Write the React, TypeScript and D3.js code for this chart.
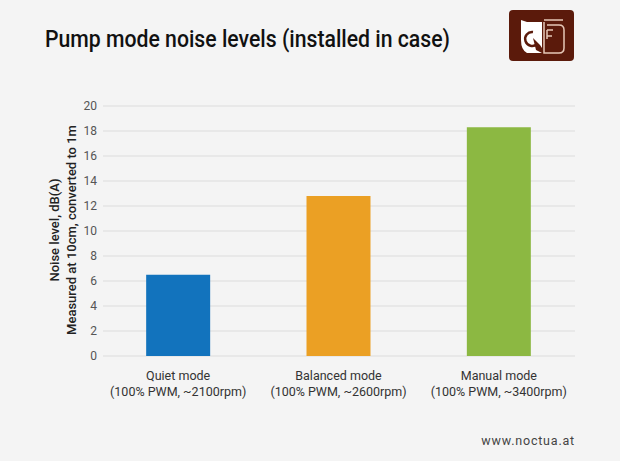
import React, { useEffect, useRef } from 'react';
import * as d3 from 'd3';

const categories = ['Quiet mode', 'Balanced mode', 'Manual mode'];
const subLabels = ['(100% PWM, ~2100rpm)', '(100% PWM, ~2600rpm)', '(100% PWM, ~3400rpm)'];
const noiseValues = [6.5, 12.8, 18.3];
const barColors = ['#1273bd', '#eba024', '#8cb842'];
const yTicks = [0, 2, 4, 6, 8, 10, 12, 14, 16, 18, 20];

const W = 620;
const H = 461;
const FONT = 'Roboto, "Liberation Sans", sans-serif';

const App = () => {
  const svgRef = useRef<SVGSVGElement>(null);

  useEffect(() => {
    const svg = d3.select(svgRef.current);
    svg.selectAll('*').remove();

    svg.append('rect').attr('width', W).attr('height', H).attr('fill', '#f4f4f4');

    // Scales
    const x = d3.scaleBand().domain(categories).range([98, 579]).paddingInner(0.6).paddingOuter(0.3);
    const y = d3.scaleLinear().domain([0, 20]).range([356, 106]);

    // Grid
    svg.append('g')
      .selectAll('line')
      .data(yTicks)
      .enter()
      .append('line')
      .attr('x1', 103)
      .attr('x2', 575)
      .attr('y1', d => y(d))
      .attr('y2', d => y(d))
      .attr('stroke', '#dcdcdc')
      .attr('stroke-width', 1);

    // Y tick labels
    svg.append('g')
      .selectAll('text')
      .data(yTicks)
      .enter()
      .append('text')
      .attr('x', 97)
      .attr('y', d => y(d))
      .attr('dy', '0.35em')
      .attr('text-anchor', 'end')
      .attr('font-family', FONT)
      .attr('font-size', 12)
      .attr('fill', '#555')
      .text(d => d);

    // Bars
    const bw = 64;
    svg.append('g')
      .selectAll('rect')
      .data(noiseValues)
      .enter()
      .append('rect')
      .attr('x', (d, i) => x(categories[i])! + x.bandwidth() / 2 - bw / 2)
      .attr('y', d => y(d))
      .attr('width', bw)
      .attr('height', d => y(0) - y(d))
      .attr('fill', (d, i) => barColors[i]);

    // Category labels
    const cat = svg.append('g')
      .selectAll('text')
      .data(categories)
      .enter()
      .append('text')
      .attr('x', d => x(d)! + x.bandwidth() / 2)
      .attr('text-anchor', 'middle')
      .attr('font-family', FONT)
      .attr('font-size', 12.5)
      .attr('fill', '#333');
    cat.append('tspan').attr('y', 380).text(d => d);
    cat.append('tspan')
      .attr('x', d => x(d)! + x.bandwidth() / 2)
      .attr('y', 396)
      .text((d, i) => subLabels[i]);

    // Y axis title
    const yt = svg.append('text')
      .attr('transform', 'translate(0,230) rotate(-90)')
      .attr('text-anchor', 'middle')
      .attr('font-family', FONT)
      .attr('font-size', 13)
      .attr('font-weight', 500)
      .attr('fill', '#222');
    yt.append('tspan').attr('x', 0).attr('y', 59).text('Noise level, dB(A)');
    yt.append('tspan').attr('x', 0).attr('y', 76).text('Measured at 10cm, converted to 1m');

    // Title
    svg.append('text')
      .attr('x', 45)
      .attr('y', 47)
      .attr('font-family', FONT)
      .attr('font-size', 23)
      .attr('font-weight', 500)
      .attr('fill', '#111')
      .attr('textLength', 405)
      .attr('lengthAdjust', 'spacingAndGlyphs')
      .text('Pump mode noise levels (installed in case)');

    // Footer
    svg.append('text')
      .attr('x', 575)
      .attr('y', 445)
      .attr('text-anchor', 'end')
      .attr('font-family', FONT)
      .attr('font-size', 12.5)
      .attr('letter-spacing', 0.8)
      .attr('fill', '#444')
      .text('www.noctua.at');

    // Logo
    const logo = svg.append('g').attr('transform', 'translate(509,10)');
    logo.append('rect').attr('width', 65).attr('height', 51).attr('rx', 4).attr('fill', '#5b1a0b');
    logo.append('path')
      .attr('d', 'M12,10 L18,12 L33,12 L33,43 L18,43 Q12,40 12,30 Z')
      .attr('fill', '#fff');
    logo.append('path')
      .attr('d', 'M24,22 A7,7 0 1 0 28,34')
      .attr('fill', 'none')
      .attr('stroke', '#5b1a0b')
      .attr('stroke-width', 2.5);
    logo.append('path')
      .attr('d', 'M24,28 L31,35 L33,38 L33,43 L27,40 Z')
      .attr('fill', '#5b1a0b');
    logo.append('path')
      .attr('d', 'M35,12 L35,43 L50,43 Q55,43 55,38 L55,20 Q55,15 50,15 L38,15 M35,10 L54,10 M38,20 L38,29 M38,20 L44,20 M38,26 L43,26')
      .attr('fill', 'none')
      .attr('stroke', '#e6c8b8')
      .attr('stroke-width', 1.5);
  }, []);

  return <svg ref={svgRef} width={W} height={H} style={{ display: 'block', position: 'absolute', left: 0, top: 0 }} />;
};

export default App;
